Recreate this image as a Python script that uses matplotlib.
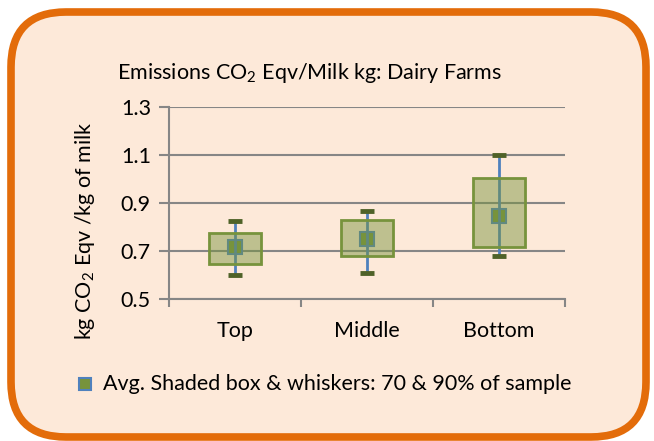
import matplotlib
matplotlib.use('Agg')
import matplotlib.pyplot as plt
from matplotlib.patches import FancyBboxPatch
from matplotlib.colors import to_rgba

# Chart values
categories = ['Top', 'Middle', 'Bottom']
avg = [0.715, 0.752, 0.847]
box_low = [0.647, 0.678, 0.717]     # 70% of sample
box_high = [0.775, 0.828, 1.004]
whisk_low = [0.598, 0.608, 0.680]   # 90% of sample
whisk_high = [0.823, 0.867, 1.100]
y_ticks = [0.5, 0.7, 0.9, 1.1, 1.3]

plt.rcParams['font.family'] = ['Lato', 'DejaVu Sans']
plt.rcParams['mathtext.fontset'] = 'custom'
plt.rcParams['mathtext.rm'] = 'Lato'
plt.rcParams['mathtext.it'] = 'Lato'
fs = 15.5

fig = plt.figure(figsize=(6.54, 4.41), dpi=100)
fig.patch.set_facecolor('white')

# rounded peach panel with orange border
bg = fig.add_axes([0, 0, 1, 1])
bg.set_xlim(0, 654)
bg.set_ylim(441, 0)
bg.axis('off')
r = 55
x0, y0, x1, y1 = 11, 12, 646, 437
panel = FancyBboxPatch((x0 + r, y0 + r), (x1 - x0) - 2 * r, (y1 - y0) - 2 * r,
                       boxstyle=f'round,pad={r}', facecolor='#fde9d9',
                       edgecolor='#e36c0a', linewidth=5.5)
bg.add_patch(panel)

ax = fig.add_axes([169 / 654, 1 - 299 / 441, 396 / 654, 192 / 441])
ax.set_facecolor('none')

x = list(range(len(categories)))
heights = [h - l for h, l in zip(box_high, box_low)]

# average marker
ax.plot(x, avg, linestyle='none', marker='s', markersize=10,
        markerfacecolor='#77933c', markeredgecolor='#4f81bd',
        markeredgewidth=1.5, zorder=3)
# whisker lines
ax.vlines(x, whisk_low, whisk_high, color='#4f81bd', linewidth=2, zorder=3.5)
# shaded boxes
ax.bar(x, heights, bottom=box_low, width=0.4,
       color=to_rgba('#77933c', 0.47), edgecolor='#77933c',
       linewidth=2, zorder=4)
# caps
ax.hlines(whisk_high, [i - 0.055 for i in x], [i + 0.055 for i in x],
          color='#4f6228', linewidth=3.5, zorder=5)
ax.hlines(whisk_low, [i - 0.055 for i in x], [i + 0.055 for i in x],
          color='#4f6228', linewidth=3.5, zorder=5)

ax.set_xlim(-0.5, len(categories) - 0.5)
ax.set_ylim(0.5, 1.3)
ax.set_yticks(y_ticks)
ax.set_yticklabels([f'{v:.1f}' for v in y_ticks])
ax.yaxis.grid(True, color='#868686', linewidth=1.5, zorder=1)
ax.set_axisbelow(True)

ax.set_xticks([-0.5, 0.5, 1.5, 2.5])
ax.set_xticklabels([])
ax.set_xticks(x, minor=True)
ax.set_xticklabels(categories, minor=True)
ax.tick_params(axis='x', which='minor', length=0, pad=16, labelsize=fs)
ax.tick_params(axis='x', which='major', length=6, width=1.5, color='#868686')
ax.tick_params(axis='y', length=7, width=1.5, color='#868686', labelsize=fs, pad=6)

for side in ['top', 'right']:
    ax.spines[side].set_visible(False)
for side in ['left', 'bottom']:
    ax.spines[side].set_color('#868686')
    ax.spines[side].set_linewidth(1.5)

fig.text(117 / 654, 1 - 73 / 441, 'Emissions CO$_2$ Eqv/Milk kg: Dairy Farms',
         fontsize=fs, ha='left', va='center')
fig.text(85 / 654, 1 - 231 / 441, 'kg CO$_2$ Eqv /kg of milk', fontsize=fs,
         rotation=90, ha='center', va='center')

# legend
bg.plot([85], [384], marker='s', markersize=8.5, markerfacecolor='#77933c',
        markeredgecolor='#4f81bd', markeredgewidth=1.5, linestyle='none')
bg.text(103, 384, 'Avg. Shaded box & whiskers: 70 & 90% of sample',
        fontsize=fs, ha='left', va='center')

fig.savefig('out.png', dpi=100)
